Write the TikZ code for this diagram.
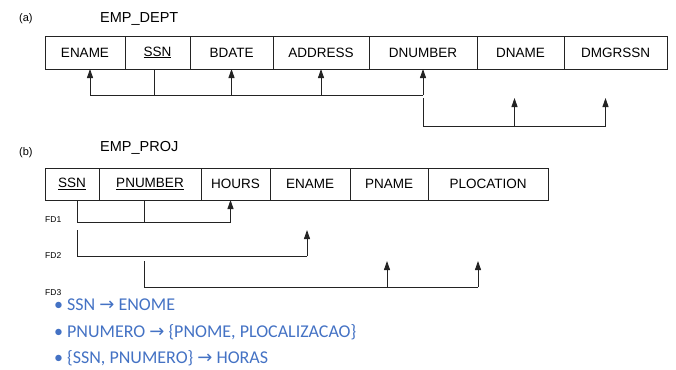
\documentclass[tikz,border=0pt]{standalone}
\usepackage{fontspec}
\setmainfont{Liberation Sans}
\newfontfamily\bulletfont{Carlito}
\newfontfamily\arrowfont{DejaVu Sans}
\usepackage{tikz}
\usetikzlibrary{arrows.meta, positioning}
\definecolor{mydark}{RGB}{35,35,35}
\definecolor{myblue}{RGB}{68,114,196}
\tikzset{
  cell/.style={rectangle, draw=mydark, inner sep=0pt, outer sep=0pt,
    font=\fontsize{13.5}{15}\selectfont, line width=0.9pt},
  title/.style={font=\fontsize{14.5}{16}\selectfont, anchor=west, inner sep=0pt},
  tag/.style={font=\fontsize{11}{12}\selectfont, anchor=west, inner sep=0pt},
  fdlabel/.style={font=\fontsize{8.5}{9}\selectfont, anchor=west, inner sep=0pt},
  bullet/.style={font=\bulletfont\fontsize{18}{20}\selectfont, text=myblue,
    anchor=west, inner sep=0pt},
  arrow/.style={-{Triangle[length=9pt,width=6pt]}, line width=0.9pt, color=mydark},
  line/.style={line width=0.9pt, color=mydark}
}

\begin{document}
\begin{tikzpicture}[x=1pt, y=-1pt]
  \useasboundingbox (0,0) rectangle (676,369);

  % (a) EMP_DEPT
  \node[tag] (tagA) at (19,19) {(a)};
  \node[title] (relA) at (100,19) {EMP\_DEPT};

  \node[cell, minimum width=80pt, minimum height=33pt, anchor=north west] (enameA) at (45,36) {ENAME};
  \node[cell, minimum width=65pt, minimum height=33pt, right=0pt of enameA] (ssnA) {\underline{SSN}};
  \node[cell, minimum width=83pt, minimum height=33pt, right=0pt of ssnA] (bdateA) {BDATE};
  \node[cell, minimum width=96pt, minimum height=33pt, right=0pt of bdateA] (addrA) {ADDRESS};
  \node[cell, minimum width=108pt, minimum height=33pt, right=0pt of addrA] (dnumA) {DNUMBER};
  \node[cell, minimum width=87pt, minimum height=33pt, right=0pt of dnumA] (dnameA) {DNAME};
  \node[cell, minimum width=103pt, minimum height=33pt, right=0pt of dnameA] (dmgrA) {DMGRSSN};

  \coordinate (lvA1) at (0,95);
  \coordinate (lvA2) at (0,126);
  \coordinate (lvA3) at (0,98);
  \coordinate (enameFoot) at ([xshift=5pt]enameA.south);
  \coordinate (ssnFoot) at ([xshift=-3pt]ssnA.south);
  \coordinate (dnameFoot) at ([xshift=-6pt]dnameA.south);
  \coordinate (dmgrFoot) at ([xshift=-10pt]dmgrA.south);

  % SSN -> ENAME, BDATE, ADDRESS, DNUMBER
  \draw[line] (ssnFoot) -- (ssnFoot |- lvA1);
  \draw[line] (enameFoot |- lvA1) -- (dnumA.south |- lvA1);
  \foreach \n in {enameFoot, bdateA.south, addrA.south, dnumA.south}
    \draw[arrow] (\n |- lvA1) -- (\n);

  % DNUMBER -> DNAME, DMGRSSN
  \draw[line] (dnumA.south |- lvA3) |- (dmgrFoot |- lvA2);
  \foreach \n in {dnameFoot, dmgrFoot}
    \draw[arrow] (\n |- lvA2) -- (\n |- lvA3);

  % (b) EMP_PROJ
  \node[tag] (tagB) at (19,153) {(b)};
  \node[title] (relB) at (100,148) {EMP\_PROJ};

  \node[cell, minimum width=54pt, minimum height=32pt, anchor=north west] (ssnB) at (45,168) {\underline{SSN}};
  \node[cell, minimum width=102pt, minimum height=32pt, right=0pt of ssnB] (pnumB) {\underline{PNUMBER}};
  \node[cell, minimum width=69pt, minimum height=32pt, right=0pt of pnumB] (hoursB) {HOURS};
  \node[cell, minimum width=80pt, minimum height=32pt, right=0pt of hoursB] (enameB) {ENAME};
  \node[cell, minimum width=78pt, minimum height=32pt, right=0pt of enameB] (pnameB) {PNAME};
  \node[cell, minimum width=120pt, minimum height=32pt, right=0pt of pnameB] (plocB) {PLOCATION};

  \coordinate (lvB1) at (0,222);
  \coordinate (lvB2a) at (0,230);
  \coordinate (lvB2) at (0,256);
  \coordinate (lvB3a) at (0,261);
  \coordinate (lvB3) at (0,287);
  \coordinate (ssnFootB) at ([xshift=5pt]ssnB.south);
  \coordinate (pnumFootB) at ([xshift=-6pt]pnumB.south);
  \coordinate (hoursFoot) at ([xshift=-5pt]hoursB.south);
  \coordinate (enameFootB) at ([xshift=-3pt]enameB.south);
  \coordinate (pnameFoot) at ([xshift=-2pt]pnameB.south);
  \coordinate (plocFoot) at ([xshift=-10pt]plocB.south);

  % FD1
  \draw[line] (ssnFootB) |- (hoursFoot |- lvB1);
  \draw[line] (pnumFootB) -- (pnumFootB |- lvB1);
  \draw[arrow] (hoursFoot |- lvB1) -- (hoursFoot);
  \node[fdlabel] (fd1) at (45,220) {FD1};

  % FD2
  \draw[line] (ssnFootB |- lvB2a) |- (enameFootB |- lvB2);
  \draw[arrow] (enameFootB |- lvB2) -- (enameFootB |- lvB2a);
  \node[fdlabel] (fd2) at (45,256) {FD2};

  % FD3
  \draw[line] (pnumFootB |- lvB3a) |- (plocFoot |- lvB3);
  \foreach \n in {pnameFoot, plocFoot}
    \draw[arrow] (\n |- lvB3) -- (\n |- lvB3a);
  \node[fdlabel] (fd3) at (45,293) {FD3};

  % bullets
  \node[bullet] (b1) at (54,305) {•\hspace{4pt}SSN {\arrowfont →} ENOME};
  \node[bullet] (b2) at (54,332) {•\hspace{4pt}PNUMERO {\arrowfont →} \{PNOME, PLOCALIZACAO\}};
  \node[bullet] (b3) at (54,358) {•\hspace{4pt}\{SSN, PNUMERO\} {\arrowfont →} HORAS};
\end{tikzpicture}
\end{document}
